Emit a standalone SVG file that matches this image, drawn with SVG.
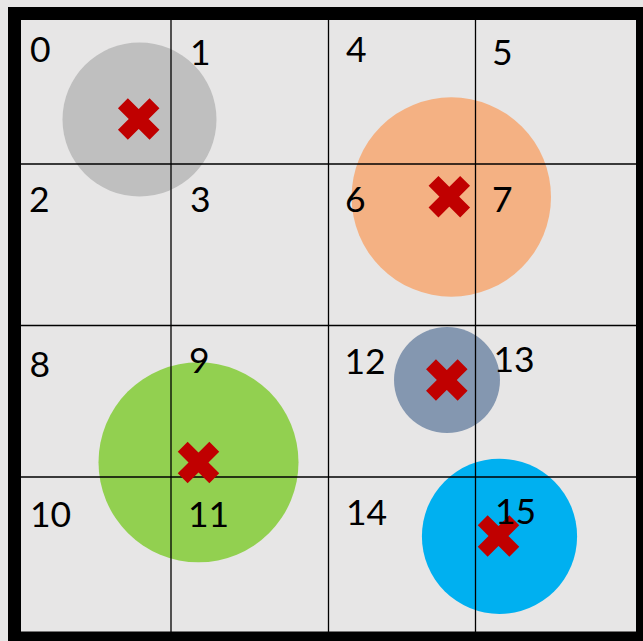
<svg xmlns="http://www.w3.org/2000/svg" width="643" height="641" viewBox="0 0 643 641">
<defs>
<style>
.grid{stroke:#000;stroke-width:1.3;fill:none}
.lbl{font-family:Lato,"Open Sans","Liberation Sans",sans-serif;font-size:35.5px;fill:#000}
.x{stroke:#c00000;stroke-width:14;stroke-linecap:butt;fill:none}
</style>
<path id="cross" class="x" d="M-15.8,-15.8L15.8,15.8M15.8,-15.8L-15.8,15.8"/>
</defs>
<rect x="0" y="0" width="643" height="641" fill="#e7e6e6"/>
<g id="circles">
<circle id="c-gray" cx="139.5" cy="119.5" r="77" fill="#bfbfbf"/>
<circle id="c-orange" cx="451.3" cy="197" r="99.7" fill="#f4b183"/>
<circle id="c-green" cx="198.5" cy="462.3" r="100" fill="#92d050"/>
<circle id="c-slate" cx="447" cy="380" r="53" fill="#8497b0"/>
<circle id="c-cyan" cx="499.5" cy="536.3" r="77.6" fill="#00b0f0"/>
</g>
<g id="grid">
<line class="grid" x1="171" y1="20" x2="171" y2="632"/>
<line class="grid" x1="328.5" y1="20" x2="328.5" y2="632"/>
<line class="grid" x1="475.5" y1="20" x2="475.5" y2="632"/>
<line class="grid" x1="21" y1="164" x2="636" y2="164"/>
<line class="grid" x1="21" y1="325.5" x2="636" y2="325.5"/>
<line class="grid" x1="21" y1="477" x2="636" y2="477"/>
</g>
<g id="markers">
<use href="#cross" x="138.7" y="119"/>
<use href="#cross" x="449.3" y="196.7"/>
<use href="#cross" x="198.5" y="462.5"/>
<use href="#cross" x="446.8" y="380"/>
<use href="#cross" x="498.5" y="536"/>
</g>
<g id="labels" class="lbl">
<text x="30" y="62">0</text>
<text x="190" y="65">1</text>
<text x="29" y="212">2</text>
<text x="190" y="212">3</text>
<text x="346" y="62">4</text>
<text x="492" y="65">5</text>
<text x="345" y="212">6</text>
<text x="492" y="212">7</text>
<text x="29.5" y="377">8</text>
<text x="189" y="373">9</text>
<text x="30" y="527">10</text>
<text x="188" y="527">11</text>
<text x="344.5" y="374">12</text>
<text x="493.5" y="372">13</text>
<text x="346" y="525">14</text>
<text x="495" y="524">15</text>
</g>
<rect id="frame" x="14.5" y="13.5" width="628" height="624.5" fill="none" stroke="#000" stroke-width="13"/>
</svg>
